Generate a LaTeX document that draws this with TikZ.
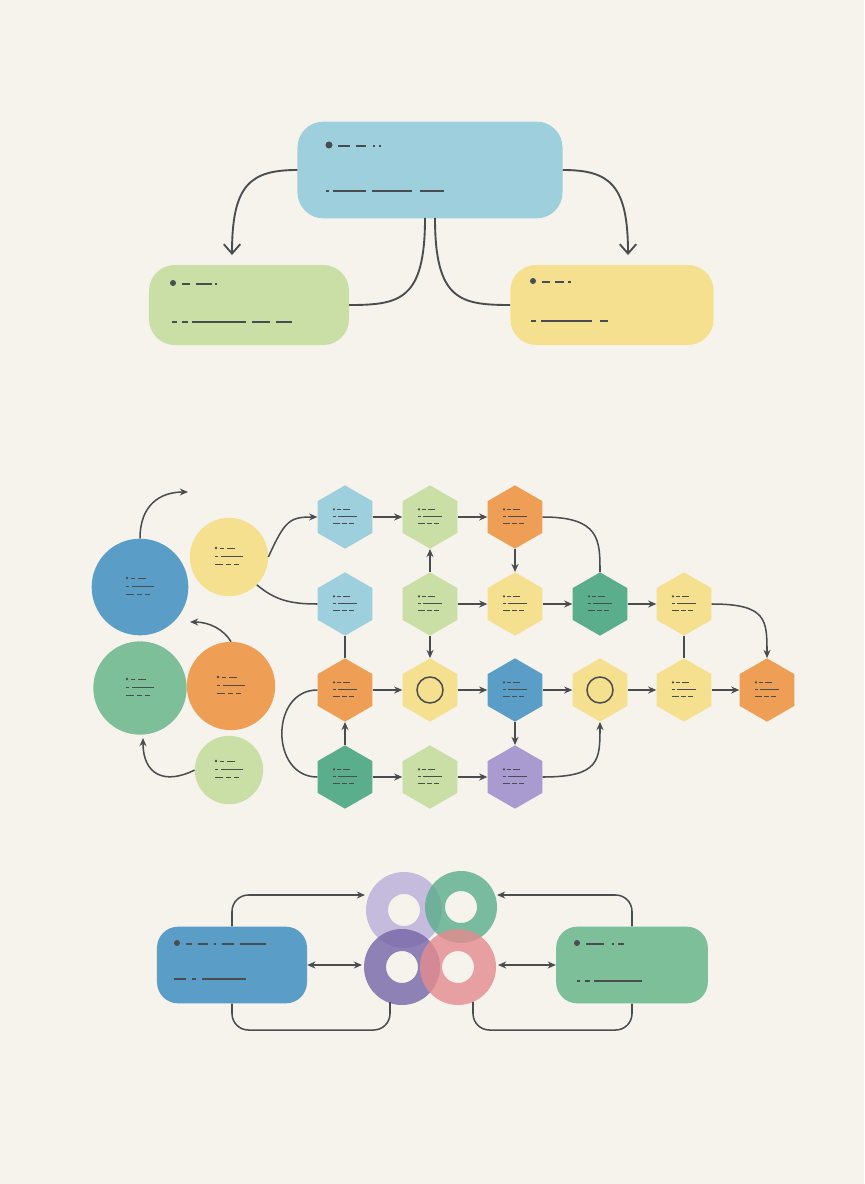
\documentclass[tikz,border=0pt]{standalone}
\usetikzlibrary{shapes.geometric, arrows.meta, positioning}
\definecolor{bgcream}{HTML}{F5F3EC}
\definecolor{skyblue}{HTML}{9DCFDC}
\definecolor{deepblue}{HTML}{5A9EC8}
\definecolor{leaf}{HTML}{C9DFA5}
\definecolor{sand}{HTML}{F5E08F}
\definecolor{mint}{HTML}{7DBF98}
\definecolor{pine}{HTML}{5BAE8B}
\definecolor{tang}{HTML}{EE9E55}
\definecolor{lilac}{HTML}{A99BD0}
\definecolor{plum}{HTML}{7565A8}
\definecolor{rose}{HTML}{E58B8F}
\definecolor{ink}{HTML}{4A4D50}
\tikzset{
  box/.style={rounded corners=22pt, inner sep=0pt},
  hex/.style={regular polygon, regular polygon sides=6, shape border rotate=30, minimum size=1.9cm, inner sep=0pt},
  blob/.style={circle, inner sep=0pt},
  flow/.style={draw=ink, line width=1.3pt, -{Stealth[length=7pt, width=6pt]}},
  link/.style={draw=ink, line width=1.3pt},
  bigflow/.style={draw=ink, line width=1.6pt, -{Straight Barb[length=8pt, width=14pt]}},
  both/.style={draw=ink, line width=1.3pt, {Stealth[length=7pt, width=6pt]}-{Stealth[length=7pt, width=6pt]}},
  mk/.style={draw=ink, line width=1.2pt},
  mks/.style={draw=ink, line width=0.7pt},
  pics/tinytext/.style={code={
    \fill[ink] (-13,-9) circle (1.4);
    \draw[mks] (-9,-9) -- (-5,-9) (-2,-9) -- (6,-9);
    \draw[mks] (-14,-1) -- (-11,-1) (-8,-1) -- (14,-1);
    \draw[mks] (-14,7) -- (-6,7) (-3,7) -- (2,7) (5,7) -- (10,7);
  }}
}
\begin{document}
\begin{tikzpicture}[x=0.03cm, y=-0.03cm]
  \fill[bgcream] (0,0) rectangle (864,1184);
  \useasboundingbox (0,0) rectangle (864,1184);

  % Top tier
  \node[box, fill=skyblue, minimum width=7.95cm, minimum height=2.9cm] (root) at (430,170) {};
  \node[box, fill=leaf, minimum width=6cm, minimum height=2.4cm] (left) at (249,305) {};
  \node[box, fill=sand, minimum width=6.1cm, minimum height=2.4cm] (right) at (612,305) {};
  \fill[ink] (329,145) circle (3.5);
  \draw[mk] (338,146) -- (350,146) (356,146) -- (366,146) (373,146) -- (375,146) (379,146) -- (381,146);
  \draw[mk] (326,191) -- (329,191) (333,191) -- (366,191) (372,191) -- (412,191) (420,191) -- (444,191);
  \fill[ink] (173,283) circle (3);
  \draw[mk] (182,284) -- (190,284) (196,284) -- (212,284) (215,284) -- (217,284);
  \draw[mk] (172,322) -- (177,322) (182,322) -- (188,322) (192,322) -- (246,322) (252,322) -- (270,322) (276,322) -- (292,322);
  \fill[ink] (533,281) circle (3);
  \draw[mk] (542,282) -- (550,282) (555,282) -- (564,282) (568,282) -- (571,282);
  \draw[mk] (531,321) -- (536,321) (541,321) -- (592,321) (600,321) -- (608,321);

  \coordinate (tipL) at (232,255);
  \coordinate (tipR) at (628,255);
  \draw[bigflow] (root.west) .. controls (250,170) and (232,185) .. (tipL);
  \draw[bigflow] (root.east) .. controls (610,170) and (628,185) .. (tipR);
  \draw[link, line width=1.6pt] (425,218) .. controls (425,300) and (400,305) .. (left.east);
  \draw[link, line width=1.6pt] (435,218) .. controls (435,300) and (460,305) .. (right.west);

  % Middle: circles
  \node[blob, fill=deepblue, minimum size=2.9cm] (c1) at (140,587) {};
  \node[blob, fill=sand, minimum size=2.35cm] (c2) at (229,557) {};
  \node[blob, fill=mint, minimum size=2.8cm] (c3) at (140,688) {};
  \node[blob, fill=tang, minimum size=2.65cm] (c4) at (231,686) {};
  \node[blob, fill=leaf, minimum size=2.05cm] (c5) at (229,770) {};
  \foreach \n in {c1,c2,c3,c4,c5} \pic at (\n) {tinytext};
  \coordinate (upTip) at (188,492);
  \coordinate (backTip) at (190,622);
  \coordinate (upTip2) at (143,738);
  \draw[flow] (c1.north) .. controls (140,505) and (160,492) .. (upTip);
  \draw[flow] (c4.north) .. controls (224,630) and (210,622) .. (backTip);
  \draw[flow] (c5.west) .. controls (165,785) and (143,775) .. (upTip2);

  % Middle: hexagon grid
  \foreach \nm/\x/\y/\col in {
      h11/345/517/skyblue, h12/430/517/leaf, h13/515/517/tang,
      h21/345/604/skyblue, h22/430/604/leaf, h23/515/604/sand, h24/600/604/pine, h25/684/604/sand,
      h31/345/690/tang, h32/430/690/sand, h33/515/690/deepblue, h34/600/690/sand, h35/684/690/sand, h36/767/690/tang,
      h41/345/777/pine, h42/430/777/leaf, h43/515/777/lilac}
    \node[hex, fill=\col] (\nm) at (\x,\y) {};
  \foreach \nm in {h11,h12,h13,h21,h22,h23,h24,h25,h31,h33,h35,h36,h41,h42,h43}
    \pic[scale=0.85] at (\nm) {tinytext};
  \draw[ink, line width=1.3pt] (h32) circle (13) (h34) circle (13);

  \draw[flow] (c2.east) .. controls (285,520) and (290,517) .. (h11.west);
  \draw[link] (c2.south east) .. controls (275,600) and (290,604) .. (h21.west);
  \draw[flow] (h11) -- (h12);
  \draw[flow] (h12) -- (h13);
  \draw[flow] (h13) -- (h23);
  \draw[link] (h13.east) .. controls (600,517) and (600,540) .. (h24.north);
  \draw[flow] (h22) -- (h12);
  \draw[flow] (h22) -- (h23);
  \draw[flow] (h23) -- (h24);
  \draw[flow] (h24) -- (h25);
  \draw[flow] (h25.east) .. controls (767,604) and (767,620) .. (h36.north);
  \draw[link] (h21) -- (h31);
  \draw[link] (h25) -- (h35);
  \draw[flow] (h22) -- (h32);
  \draw[flow] (h31) -- (h32);
  \draw[flow] (h32) -- (h33);
  \draw[flow] (h33) -- (h34);
  \draw[flow] (h34) -- (h35);
  \draw[flow] (h35) -- (h36);
  \draw[flow] (h33) -- (h43);
  \draw[flow] (h41) -- (h31);
  \draw[flow] (h41) -- (h42);
  \draw[flow] (h42) -- (h43);
  \draw[flow] (h43.east) .. controls (600,777) and (600,760) .. (h34.south);
  \draw[link] (h31.west) .. controls (270,690) and (270,777) .. (h41.west);

  % Bottom tier
  \node[box, fill=deepblue, minimum width=4.5cm, minimum height=2.3cm, rounded corners=18pt] (src) at (232,965) {};
  \node[box, fill=mint, minimum width=4.55cm, minimum height=2.3cm, rounded corners=18pt] (dst) at (632,965) {};
  \fill[ink] (177,943) circle (3);
  \draw[mk] (186,944) -- (192,944) (198,944) -- (208,944) (214,944) -- (216,944) (222,944) -- (234,944) (240,944) -- (266,944);
  \draw[mk] (174,979) -- (186,979) (192,979) -- (196,979) (202,979) -- (246,979);
  \fill[ink] (577,943) circle (3);
  \draw[mk] (586,944) -- (604,944) (612,944) -- (614,944) (618,944) -- (624,944);
  \draw[mk] (577,981) -- (580,981) (585,981) -- (590,981) (594,981) -- (642,981);

  \begin{scope}[opacity=0.8]
    \fill[lilac!80, even odd rule] (404,910) circle (38) (404,910) circle (16);
    \fill[pine, even odd rule] (461,907) circle (36) (461,907) circle (16);
    \fill[plum, even odd rule] (402,967) circle (38) (402,967) circle (16);
    \fill[rose, even odd rule] (458,967) circle (38) (458,967) circle (16);
  \end{scope}
  \coordinate (ringL) at (362,965);
  \coordinate (ringR) at (498,965);
  \coordinate (ringTL) at (365,895);
  \coordinate (ringTR) at (497,895);
  \draw[both] (src.east) -- (ringL);
  \draw[both] (ringR) -- (dst.west);
  \draw[flow, rounded corners=14pt] (src.north) |- (ringTL);
  \draw[flow, rounded corners=14pt] (dst.north) |- (ringTR);
  \draw[link, rounded corners=14pt] (src.south) |- (390,1030) -- (390,1002);
  \draw[link, rounded corners=14pt] (dst.south) |- (473,1030) -- (473,1002);
\end{tikzpicture}
\end{document}
